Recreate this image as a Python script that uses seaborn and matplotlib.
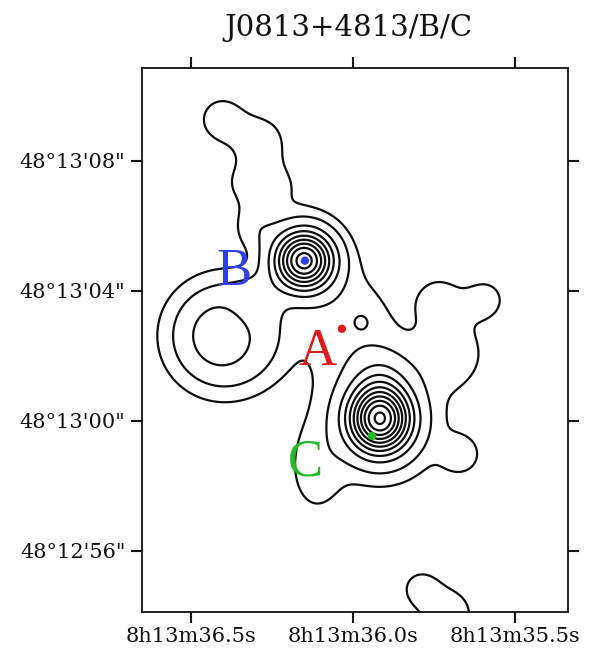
import numpy as np
import matplotlib
matplotlib.use("Agg")
import matplotlib.pyplot as plt
import seaborn as sns
import pandas as pd

# ---- emission model: Gaussian components (arcsec offsets from 8h13m36.0s, +48d13m00s; east positive)
comp_dx  = [1.510, 1.263, -0.832, -0.832, -0.832, 0.092, -0.277, 4.006, 2.812, 4.037, 2.804, 2.928, 3.020, -2.681, -4.068, -3.051, -3.359, 1.171, -2.065, -2.928]
comp_dy  = [4.931, 5.639, 0.062, -0.123, 1.325, 3.112, 3.051, 2.619, 3.883, 9.276, 8.659, 7.334, 5.948, 3.729, 3.729, 2.126, -1.048, -1.664, -5.146, -5.978]
comp_amp = [16.3, 0.7, 18.5, 1.8, 2.0, 1.3, 0.72, 1.4, 1.0, 1.5, 1.5, 1.4, 1.2, 1.5, 1.5, 1.6, 1.25, 1.15, 1.3, 1.6]
comp_sx  = [0.601, 1.294, 0.632, 1.695, 0.616, 1.233, 0.216, 1.387, 0.493, 0.616, 0.555, 0.863, 0.493, 0.524, 0.493, 0.740, 0.431, 0.555, 0.431, 0.678]
comp_sy  = [0.601, 1.294, 0.678, 1.541, 0.616, 1.233, 0.216, 1.387, 0.493, 0.616, 0.555, 0.616, 0.493, 0.524, 0.493, 0.740, 0.431, 0.924, 0.431, 0.740]
# ring-shaped component (left loop)
ring_dx, ring_dy, ring_amp, ring_radius, ring_width = 4.006, 2.619, 1.33, 1.365, 0.484

contour_levels = [1, 2, 4, 6, 8, 10, 12, 14, 16, 18, 20]

# ---- sources
src_names  = ["A", "B", "C"]
src_ra     = [36.034, 36.148, 35.941]     # seconds of 8h13m
src_dec    = [2.835, 4.931, -0.462]       # arcsec from +48d13m00s
src_colors = ["#e01a1a", "#3040e0", "#22bb22"]
lab_ra     = [36.108, 36.367, 36.148]
lab_dec    = [1.726, 4.191, -1.695]

x_ticks = [36.5, 36.0, 35.5]
x_ticklabels = ["8h13m36.5s", "8h13m36.0s", "8h13m35.5s"]
y_ticks = [8, 4, 0, -4]
y_ticklabels = ["48°13'08\"", "48°13'04\"", "48°13'00\"", "48°12'56\""]

RA0, ASEC_PER_S = 36.0, 9.996
xlim = (36.651, 35.336)
ylim = (-5.88, 10.86)

sns.set_theme(style="white")
plt.rcParams["font.family"] = ["DejaVu Serif"]

ra = np.linspace(xlim[0] + 0.02, xlim[1] - 0.02, 500)
dec = np.linspace(ylim[0] - 0.3, ylim[1] + 0.3, 600)
RA, DEC = np.meshgrid(ra, dec)
DX = (RA - RA0) * ASEC_PER_S
Z = np.zeros_like(DX)
for dx, dy, a, sx, sy in zip(comp_dx, comp_dy, comp_amp, comp_sx, comp_sy):
    Z += a * np.exp(-((DX - dx) ** 2) / (2 * sx ** 2) - ((DEC - dy) ** 2) / (2 * sy ** 2))
R = np.hypot(DX - ring_dx, DEC - ring_dy)
Z += ring_amp * np.exp(-((R - ring_radius) ** 2) / (2 * ring_width ** 2))

fig = plt.figure(figsize=(5.89, 6.5), dpi=100)
ax = fig.add_axes([142 / 589, 1 - 612 / 650, 426 / 589, 544 / 650])
ax.contour(RA, DEC, Z, levels=contour_levels, colors="#0d0d0d", linewidths=1.6)

df = pd.DataFrame({"ra": src_ra, "dec": src_dec, "name": src_names})
sns.scatterplot(data=df, x="ra", y="dec", hue="name", palette=src_colors, s=36,
                edgecolor="none", legend=False, ax=ax, zorder=5)
for n, x, y, c in zip(src_names, lab_ra, lab_dec, src_colors):
    ax.text(x, y, n, color=c, fontsize=38, family=["Liberation Serif"], ha="center",
            va="baseline", zorder=6)

ax.set_xlim(*xlim)
ax.set_ylim(*ylim)
ax.set_xticks(x_ticks)
ax.set_xticklabels(x_ticklabels)
ax.set_yticks(y_ticks)
ax.set_yticklabels(y_ticklabels)
ax.tick_params(axis="both", which="major", direction="out", length=8, width=1.5,
               labelsize=15, colors="#111111", top=True, right=True, bottom=True, left=True,
               labeltop=False, labelright=False)
ax.tick_params(axis="x", pad=3)
ax.tick_params(axis="y", pad=4)
for s in ax.spines.values():
    s.set_linewidth(1.3)
    s.set_color("#111111")
ax.set_xlabel("")
ax.set_ylabel("")
fig.text(348 / 589, 1 - 28 / 650, "J0813+4813/B/C", ha="center", va="center", fontsize=21, color="#111111")

fig.savefig("out.png", dpi=100)
